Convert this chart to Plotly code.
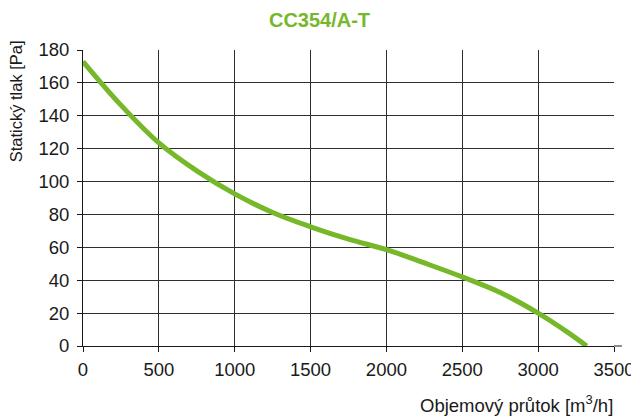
import plotly.graph_objects as go

title_text = "CC354/A-T"
x_title = "Objemový průtok [m<sup>3</sup>/h]"
y_title = "Statický tlak [Pa]"

flow = [0, 250, 500, 750, 1000, 1250, 1500, 1750, 2000, 2250, 2500, 2750, 3000, 3200, 3320]
pressure = [173, 146.5, 123.5, 106.5, 92.5, 81.2, 72.5, 65, 58.6, 50.5, 42, 32.5, 20, 8, 0]

x_ticks = [0, 500, 1000, 1500, 2000, 2500, 3000, 3500]
y_ticks = [0, 20, 40, 60, 80, 100, 120, 140, 160, 180]

green = "#76b82a"
grid = "#2e2e2e"
ink = "#1a1a1a"
font = "Liberation Sans, Arial, sans-serif"

fig = go.Figure()
fig.add_trace(go.Scatter(
    x=flow, y=pressure, mode="lines",
    line=dict(color=green, width=5, shape="spline", smoothing=1),
    hoverinfo="skip", showlegend=False,
))

axis_common = dict(
    showgrid=True, gridcolor=grid, gridwidth=1,
    showline=True, linecolor=ink, linewidth=1,
    ticks="outside", ticklen=5, tickcolor=ink, tickwidth=1,
    zeroline=False, fixedrange=True,
    tickfont=dict(family=font, size=18.5, color=ink),
)

fig.update_layout(
    width=639, height=419,
    margin=dict(l=75, r=30, t=42, b=81),
    paper_bgcolor="white", plot_bgcolor="white",
    font=dict(family=font, size=18.5, color=ink),
    showlegend=False,
    title=dict(text="<b>" + title_text + "</b>", x=0.4875, xanchor="center",
               xref="container", y=0.971, yanchor="middle",
               font=dict(family=font, size=20, color=green)),
    xaxis=dict(range=[0, 3500], tickvals=x_ticks, ticklabelstandoff=2,
               ticktext=[str(v) for v in x_ticks], **axis_common),
    yaxis=dict(range=[0, 180], tickvals=y_ticks, ticklabelstandoff=4,
               ticktext=[str(v) for v in y_ticks], **axis_common),
    shapes=[
        dict(type="line", xref="x domain", yref="y domain", x0=1, x1=1.015, y0=0, y1=0,
             line=dict(color=ink, width=1)),
    ],
    annotations=[
        dict(text=x_title, xref="paper", yref="paper", x=1.002, y=-0.197,
             xanchor="right", yanchor="middle", showarrow=False,
             font=dict(family=font, size=18.5, color=ink)),
        dict(text=y_title, xref="paper", yref="paper", x=-0.127, y=0.825,
             xanchor="center", yanchor="middle", textangle=-90, showarrow=False,
             font=dict(family=font, size=16.5, color=ink)),
    ],
)

fig.write_html("out.html")
